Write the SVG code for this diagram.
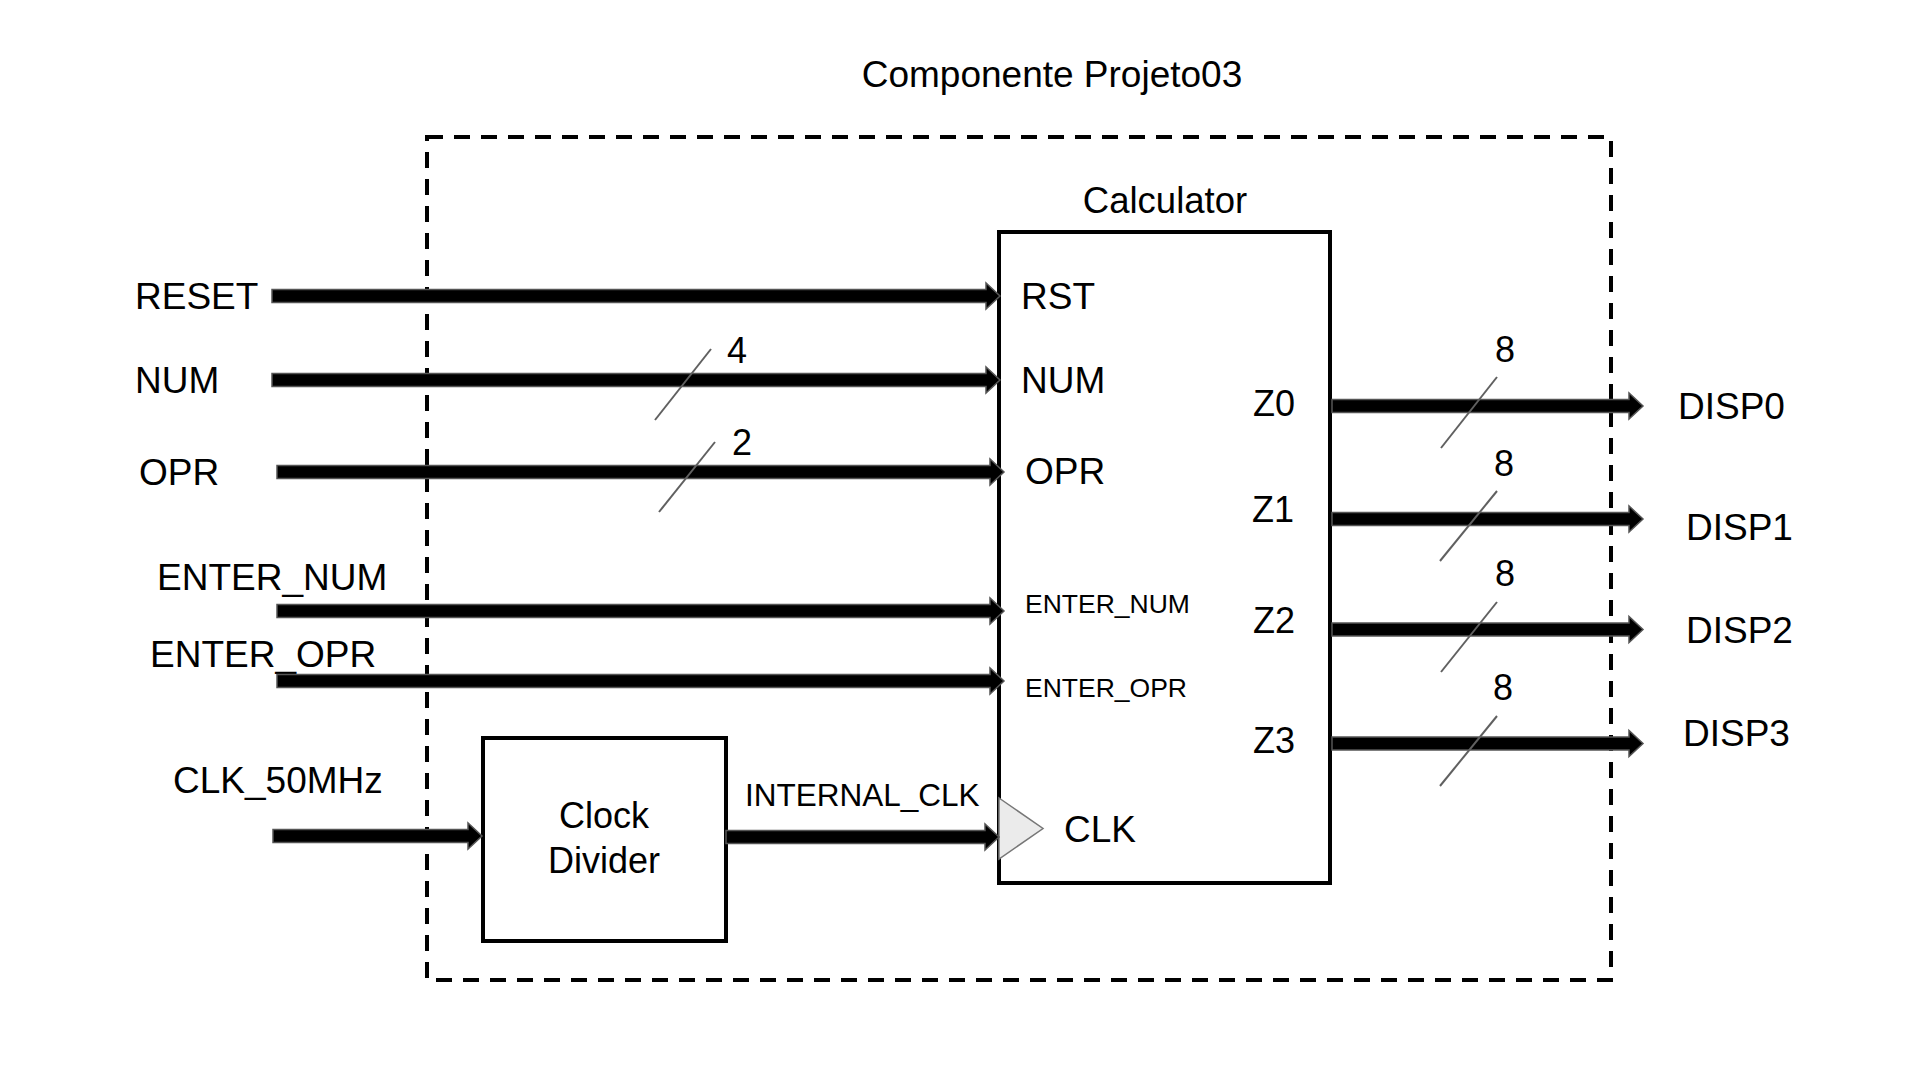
<svg xmlns="http://www.w3.org/2000/svg" width="1920" height="1080" viewBox="0 0 1920 1080">
<style>
text{font-family:"Liberation Sans",Arial,sans-serif;fill:#000}
.t37{font-size:37px}
.t36{font-size:36px}
.t32{font-size:31.5px}
.t26{font-size:26.5px}
.box{fill:#fff;stroke:#000;stroke-width:4}
.dash{fill:none;stroke:#000;stroke-width:4;stroke-dasharray:16 11}
.arr{fill:#000;stroke:#555;stroke-width:1.5;stroke-linejoin:miter}
.bus{stroke:#606060;stroke-width:2;fill:none}
</style>
<rect width="1920" height="1080" fill="#fff"/>
<g id="componente">
<rect class="dash" x="427" y="137" width="1184" height="843"/>
<text class="t37" x="1052" y="87" text-anchor="middle">Componente Projeto03</text>
</g>
<g id="calculator">
<rect class="box" x="999" y="232" width="331" height="651"/>
<text class="t36" x="1165" y="213" text-anchor="middle" style="font-size:36.5px">Calculator</text>
<text class="t37" x="1021" y="309">RST</text>
<text class="t37" x="1021" y="393">NUM</text>
<text class="t37" x="1025" y="484">OPR</text>
<text class="t26" x="1025" y="613">ENTER_NUM</text>
<text class="t26" x="1025" y="697">ENTER_OPR</text>
<polygon points="999,798 1043,828.5 999,859" fill="#ebebeb" stroke="#777" stroke-width="1.5"/>
<text class="t37" x="1064" y="842">CLK</text>
<text class="t36" x="1253" y="416">Z0</text>
<text class="t36" x="1252" y="522">Z1</text>
<text class="t36" x="1253" y="633">Z2</text>
<text class="t36" x="1253" y="753">Z3</text>
</g>
<g id="clock-divider">
<rect class="box" x="483" y="738" width="243" height="203"/>
<text class="t36" x="604" y="828" text-anchor="middle">Clock</text>
<text class="t36" x="604" y="873" text-anchor="middle">Divider</text>
</g>
<g id="inputs">
<text class="t37" x="135" y="309">RESET</text>
<text class="t37" x="135" y="393">NUM</text>
<text class="t37" x="139" y="485">OPR</text>
<text class="t37" x="157" y="590">ENTER_NUM</text>
<text class="t37" x="150" y="667">ENTER_OPR</text>
<text class="t37" x="173" y="793">CLK_50MHz</text>
</g>
<g id="outputs">
<text class="t37" x="1678" y="419">DISP0</text>
<text class="t37" x="1686" y="540">DISP1</text>
<text class="t37" x="1686" y="643">DISP2</text>
<text class="t37" x="1683" y="746">DISP3</text>
</g>
<g id="connectors">
<path class="arr" d="M272,289.5 L986,289.5 L986,283 L1000,296 L986,309 L986,302.5 L272,302.5 Z"/>
<path class="arr" d="M272,373.5 L986,373.5 L986,367 L1000,380 L986,393 L986,386.5 L272,386.5 Z"/>
<path class="arr" d="M277,465.5 L990,465.5 L990,459 L1004,472 L990,485 L990,478.5 L277,478.5 Z"/>
<path class="arr" d="M277,604.5 L990,604.5 L990,598 L1004,611 L990,624 L990,617.5 L277,617.5 Z"/>
<path class="arr" d="M277,674.5 L990,674.5 L990,668 L1004,681 L990,694 L990,687.5 L277,687.5 Z"/>
<path class="arr" d="M273,829.5 L468,829.5 L468,823 L482,836 L468,849 L468,842.5 L273,842.5 Z"/>
<path class="arr" d="M726,830.5 L985,830.5 L985,824 L999,837 L985,850 L985,843.5 L726,843.5 Z"/>
<text class="t32" x="745" y="806">INTERNAL_CLK</text>
<path class="arr" d="M1332,399.5 L1629,399.5 L1629,393 L1643,406 L1629,419 L1629,412.5 L1332,412.5 Z"/>
<path class="arr" d="M1332,512.5 L1629,512.5 L1629,506 L1643,519 L1629,532 L1629,525.5 L1332,525.5 Z"/>
<path class="arr" d="M1332,623 L1629,623 L1629,616.5 L1643,629.5 L1629,642.5 L1629,636 L1332,636 Z"/>
<path class="arr" d="M1332,737 L1629,737 L1629,730.5 L1643,743.5 L1629,756.5 L1629,750 L1332,750 Z"/>
<line class="bus" x1="655" y1="420" x2="711" y2="349"/>
<line class="bus" x1="659" y1="512" x2="715" y2="442"/>
<line class="bus" x1="1441" y1="448" x2="1497" y2="377"/>
<line class="bus" x1="1440" y1="561" x2="1497" y2="491"/>
<line class="bus" x1="1441" y1="672" x2="1497" y2="602"/>
<line class="bus" x1="1440" y1="786" x2="1497" y2="716"/>
<text class="t36" x="727" y="363">4</text>
<text class="t36" x="732" y="455">2</text>
<text class="t36" x="1495" y="362">8</text>
<text class="t36" x="1494" y="476">8</text>
<text class="t36" x="1495" y="586">8</text>
<text class="t36" x="1493" y="700">8</text>
</g>
</svg>
